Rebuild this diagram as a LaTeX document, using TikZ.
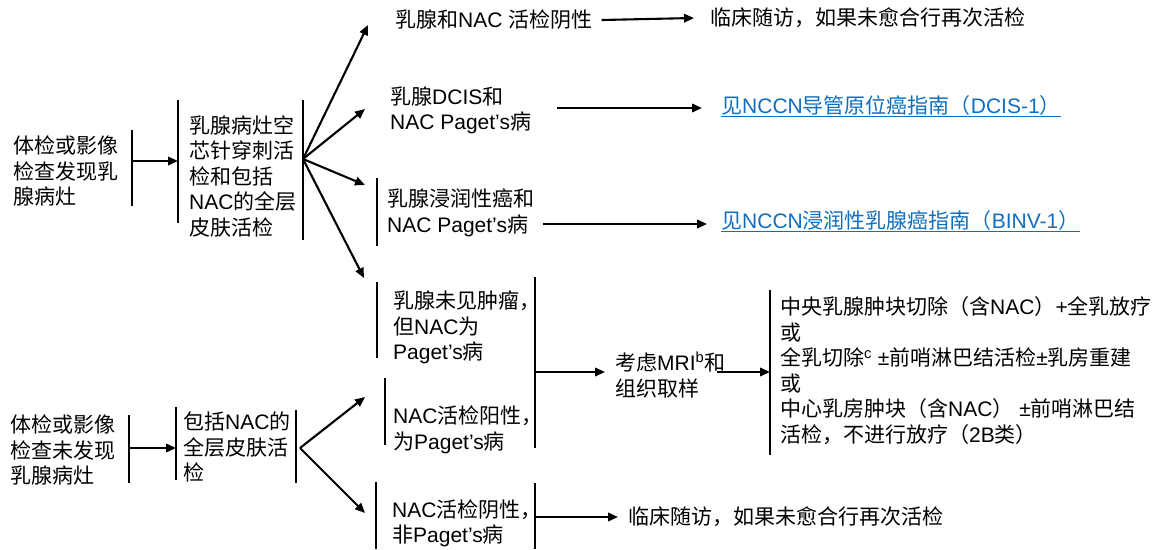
\documentclass[tikz,border=0pt]{standalone}
\usepackage{fontspec}
\setmainfont{Liberation Sans}
\newfontfamily\latfont{Liberation Sans}
\newfontfamily\cjkfont{Noto Sans CJK SC}
\usetikzlibrary{arrows.meta}
\definecolor{linkblue}{RGB}{16,110,190}

% automatic switch between the Latin and the CJK font
\XeTeXinterchartokenstate=1
\newXeTeXintercharclass\CJKcls
\newcount\cjkc
\def\setcjkrange#1#2{\cjkc=#1 \loop \XeTeXcharclass\cjkc=\CJKcls \ifnum\cjkc<#2 \advance\cjkc by 1 \repeat}
\setcjkrange{"4E00}{"9FFF}
\setcjkrange{"3000}{"303F}
\setcjkrange{"FF00}{"FFEF}
\XeTeXinterchartoks 0 \CJKcls = {\cjkfont}
\XeTeXinterchartoks 4095 \CJKcls = {\cjkfont}
\XeTeXinterchartoks \CJKcls 0 = {\latfont}
\XeTeXinterchartoks \CJKcls 4095 = {\latfont}

\begin{document}
\begin{tikzpicture}[x=1pt,y=-1pt,
  txt/.style={anchor=west,inner sep=0pt,align=left,font=\fontsize{21}{25.5}\selectfont},
  link/.style={txt,text=linkblue},
  bar/.style={line width=2pt},
  arr/.style={line width=2.1pt,-{Triangle[length=10pt,width=8.5pt]}},
  uline/.style={linkblue,line width=1.3pt}]

\useasboundingbox (0,0) rectangle (1158,549);

% ---------- upper branch ----------
\node[txt] (find) at (13,171) {体检或影像\\检查发现乳\\腺病灶};
\node[txt] (core) at (189,176) {乳腺病灶空\\芯针穿刺活\\检和包括\\NAC的全层\\皮肤活检};

\draw[bar] (132,130) -- (132,206);
\draw[bar] (178,100) -- (178,223);
\draw[bar] (303,100) -- (303,240);
\coordinate (a1) at (132,161);
\coordinate (a2) at (178,161);
\draw[arr] (a1) -- (a2);

\coordinate (fanA) at (303,159);
\coordinate (tA1) at (368,25);
\coordinate (tA2) at (365,109);
\coordinate (tA3) at (365,185);
\coordinate (tA4) at (364,278);
\foreach \t in {tA1,tA2,tA3,tA4} \draw[arr] (fanA) -- (\t);

% row 1
\node[txt] (neg) at (395,20) {乳腺和NAC 活检阴性};
\node[txt] (fu1) at (710,18) {临床随访，如果未愈合行再次活检};
\draw[arr] ([xshift=9pt]neg.east) -- ([xshift=-16pt]fu1.west);

% row 2
\node[txt] (dcis) at (390,110.5) {乳腺DCIS和\\NAC Paget’s病};
\node[link] (lk1) at (721,106) {见NCCN导管原位癌指南（DCIS-1）};
\coordinate (r2a) at (557,108);
\coordinate (r2b) at (702,108);
\draw[arr] (r2a) -- (r2b);
\draw[uline] ([yshift=-2.5pt]lk1.base west) -- ([yshift=-2.5pt]lk1.base east);

% row 3
\draw[bar] (377,178) -- (377,246);
\node[txt] (inv) at (387,213) {乳腺浸润性癌和\\NAC Paget’s病};
\node[link] (lk2) at (721,221) {见NCCN浸润性乳腺癌指南（BINV-1）};
\coordinate (r3a) at (543,224);
\coordinate (r3b) at (707,224);
\draw[arr] (r3a) -- (r3b);
\draw[uline] ([yshift=-2.5pt]lk2.base west) -- ([yshift=-2.5pt]lk2.base east);

% row 4
\draw[bar] (377,282) -- (377,358);
\node[txt] (nomass) at (393,327.5) {乳腺未见肿瘤，\\但NAC为\\Paget’s病};

% row 5
\draw[bar] (385,378) -- (385,445);
\node[txt] (pos) at (393,430) {NAC活检阳性，\\为Paget’s病};

% row 6
\draw[bar] (376,482) -- (376,549);
\node[txt] (negb) at (392,523.5) {NAC活检阴性，\\非Paget’s病};

% work-up and treatment
\draw[bar] (535,277) -- (535,448);
\coordinate (m1) at (535,372);
\coordinate (m2) at (605,372);
\draw[arr] (m1) -- (m2);
\node[txt] (mri) at (615,375) {考虑MRI\textsuperscript{b}和\\组织取样};
\coordinate (m3) at (717,372);
\coordinate (m4) at (770,372);
\draw[arr] (m3) -- (m4);
\draw[bar] (770,290) -- (770,455);
\node[txt] (treat) at (780,370.5) {中央乳腺肿块切除（含NAC）+全乳放疗\\或\\全乳切除\textsuperscript{c} ±前哨淋巴结活检±乳房重建\\或\\中心乳房肿块（含NAC） ±前哨淋巴结\\活检，不进行放疗（2B类）};

\draw[bar] (535,483) -- (535,549);
\coordinate (n1) at (535,517);
\node[txt] (fu2) at (628,517) {临床随访，如果未愈合行再次活检};
\draw[arr] (n1) -- ([xshift=-10pt]fu2.west);

% ---------- lower branch ----------
\node[txt] (nofind) at (10,450) {体检或影像\\检查未发现\\乳腺病灶};
\node[txt] (skin) at (183,447) {包括NAC的\\全层皮肤活\\检};
\draw[bar] (129,415) -- (129,483);
\draw[bar] (176,407) -- (176,480);
\draw[bar] (296,410) -- (296,483);
\coordinate (b1) at (129,448);
\coordinate (b2) at (176,448);
\draw[arr] (b1) -- (b2);
\coordinate (fanB) at (300,448);
\coordinate (tB1) at (365,397);
\coordinate (tB2) at (365,513);
\draw[arr] (fanB) -- (tB1);
\draw[arr] (fanB) -- (tB2);
\end{tikzpicture}
\end{document}
